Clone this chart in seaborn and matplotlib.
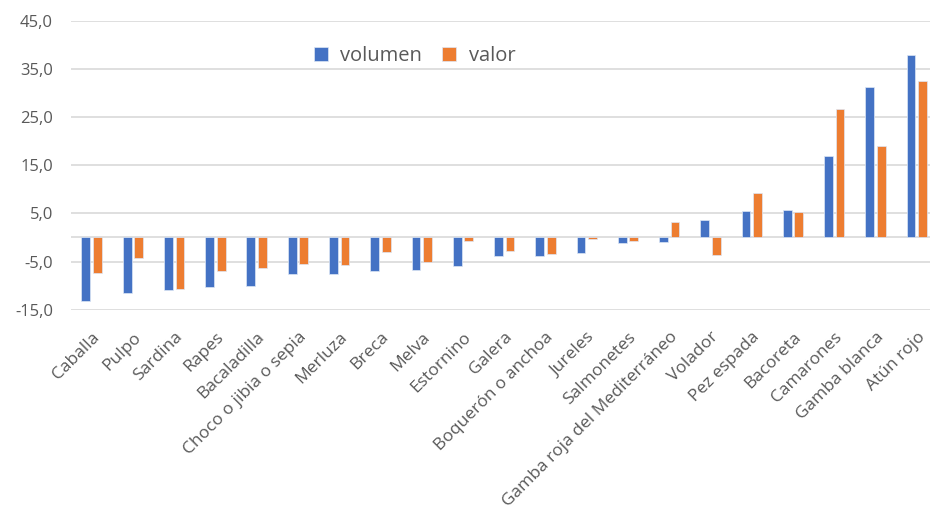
import pandas as pd
import seaborn as sns
import matplotlib
matplotlib.use("Agg")
import matplotlib.pyplot as plt
from matplotlib.ticker import FuncFormatter, FixedLocator

especies = [
    "Caballa", "Pulpo", "Sardina", "Rapes", "Bacaladilla",
    "Choco o jibia o sepia", "Merluza", "Breca", "Melva", "Estornino",
    "Galera", "Boquerón o anchoa", "Jureles", "Salmonetes",
    "Gamba roja del Mediterráneo", "Volador", "Pez espada", "Bacoreta",
    "Camarones", "Gamba blanca", "Atún rojo",
]
volumen = [-13.1, -11.6, -10.9, -10.2, -10.0, -7.6, -7.6, -7.0, -6.8, -6.0,
           -3.8, -3.8, -3.3, -1.2, -1.0, 3.7, 5.5, 5.8, 16.9, 31.2, 37.9]
valor = [-7.3, -4.3, -10.7, -6.9, -6.4, -5.5, -5.7, -3.1, -5.1, -0.8,
         -2.9, -3.5, -0.35, -0.7, 3.3, -3.6, 9.3, 5.3, 26.7, 18.9, 32.5]
y_ticks = [-15, -5, 5, 15, 25, 35, 45]

# tabla larga para seaborn
df = pd.DataFrame({"especie": especies, "volumen": volumen, "valor": valor})
dfm = df.melt("especie", var_name="serie", value_name="variacion")

sns.set_theme(style="white")
plt.rcParams["font.family"] = ["Open Sans", "DejaVu Sans"]
gris = "#595959"

fig = plt.figure(figsize=(9.3, 5.12), dpi=100)
ax = fig.add_axes([71 / 930, 1 - 309.7 / 512, (930 - 71) / 930, (309.7 - 20.7) / 512])

sns.barplot(
    data=dfm, x="especie", y="variacion", hue="serie", ax=ax,
    palette={"volumen": "#4472C4", "valor": "#ED7D31"}, saturation=1,
    width=0.56, gap=0.24, edgecolor="#DDE6F5", linewidth=0.5,
    legend=True,
)

n = len(especies)
ax.set_xlim(-0.5, n - 0.5 - 0.18)
ax.set_ylim(-15, 45)
ax.yaxis.set_major_locator(FixedLocator(y_ticks))
ax.yaxis.set_major_formatter(FuncFormatter(lambda v, p: f"{v:.1f}".replace(".", ",")))
ax.grid(axis="y", color="#D9D9D9", linewidth=1.2)
ax.axhline(0, color="#D9D9D9", linewidth=1.2, zorder=0.5)
ax.set_axisbelow(True)
sns.despine(ax=ax, left=True, bottom=True, top=True, right=True)

ax.set_xlabel("")
ax.set_ylabel("")
ax.tick_params(axis="y", length=0, pad=13, labelsize=12, labelcolor=gris)
ax.tick_params(axis="x", length=0, pad=14, labelsize=12.5, labelcolor=gris)
plt.setp(ax.get_xticklabels(), rotation=45, ha="right", rotation_mode="anchor")

handles, labels = ax.get_legend_handles_labels()
ax.legend(
    handles, labels, loc="upper left", bbox_to_anchor=(0.262, 0.975), ncol=2,
    frameon=False, fontsize=14.5, labelcolor=gris, handlelength=0.7,
    handleheight=0.7, handletextpad=0.6, columnspacing=1.0,
)

fig.savefig("out.png", dpi=100)
